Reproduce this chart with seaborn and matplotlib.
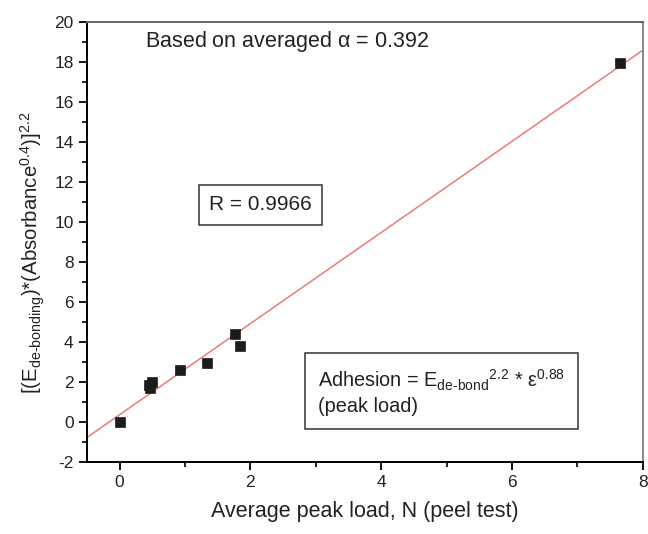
import matplotlib
matplotlib.use('Agg')
import matplotlib.pyplot as plt
import pandas as pd
import seaborn as sns

peak_load = [0.0, 0.45, 0.50, 0.47, 0.93, 1.33, 1.77, 1.84, 7.65]
adhesion_term = [0.0, 1.85, 2.0, 1.72, 2.58, 2.95, 4.42, 3.78, 17.95]
x_ticks = [0, 2, 4, 6, 8]
y_ticks = [-2, 0, 2, 4, 6, 8, 10, 12, 14, 16, 18, 20]

sns.set_style('ticks')
plt.rcParams['font.family'] = ['Liberation Sans', 'DejaVu Sans']
plt.rcParams['mathtext.fontset'] = 'custom'
plt.rcParams['mathtext.rm'] = 'Liberation Sans'
plt.rcParams['mathtext.it'] = 'Liberation Sans'
plt.rcParams['mathtext.default'] = 'regular'
plt.rcParams['axes.unicode_minus'] = False

df = pd.DataFrame({'load': peak_load, 'adh': adhesion_term})

fig = plt.figure(figsize=(6.48, 5.34), dpi=100)
ax = fig.add_axes([0.134, 0.135, 0.858, 0.824])
ax.set_xlim(-0.5, 8)
ax.set_ylim(-2, 20)

sns.regplot(x='load', y='adh', data=df, ax=ax, ci=None, truncate=False,
            marker='s',
            scatter_kws={'s': 42, 'color': '#1c1c1c', 'edgecolor': '#1c1c1c',
                         'linewidths': 0.5, 'alpha': 1, 'zorder': 3},
            line_kws={'color': '#e87c7c', 'lw': 1.1, 'zorder': 2})

ax.set_xticks(x_ticks)
ax.set_yticks(y_ticks)
ax.xaxis.set_minor_locator(matplotlib.ticker.MultipleLocator(1))
ax.yaxis.set_minor_locator(matplotlib.ticker.MultipleLocator(1))
ax.tick_params(which='major', direction='out', length=6, width=1.3,
               labelsize=12.5, color='black', labelcolor='#222222')
ax.tick_params(which='minor', direction='out', length=3.5, width=1.2, color='black')
ax.tick_params(top=False, right=False, which='both')
for s in ax.spines.values():
    s.set_linewidth(1.4)
    s.set_color('black')
ax.spines['right'].set_color('#888888')
ax.spines['top'].set_color('#666666')

ax.set_xlabel('Average peak load, N (peel test)', fontsize=15.5, color='#222222', labelpad=8)
ax.set_ylabel(r'[(E$_{de\text{-}bonding}$)*(Absorbance$^{0.4}$)]$^{2.2}$',
              fontsize=14.7, color='#222222')
ax.yaxis.set_label_coords(-0.072, 0.475)

ax.text(0.105, 0.955, r'Based on averaged $\alpha$ = 0.392', transform=ax.transAxes,
        fontsize=15.5, color='#222222', ha='left', va='center')
ax.text(0.312, 0.584, 'R = 0.9966', transform=ax.transAxes, fontsize=15,
        color='#222222', ha='center', va='center',
        bbox=dict(boxstyle='square,pad=0.5', fc='white', ec='#333333', lw=1.1))
ax.text(0.416, 0.159,
        'Adhesion = E$_{de\\text{-}bond}$$^{2.2}$ * $\\epsilon^{0.88}$\n(peak load)',
        transform=ax.transAxes, fontsize=14.3, color='#222222', ha='left', va='center',
        linespacing=1.3,
        bbox=dict(boxstyle='square,pad=0.65', fc='white', ec='#333333', lw=1.1))

fig.savefig('out.png', dpi=100)
